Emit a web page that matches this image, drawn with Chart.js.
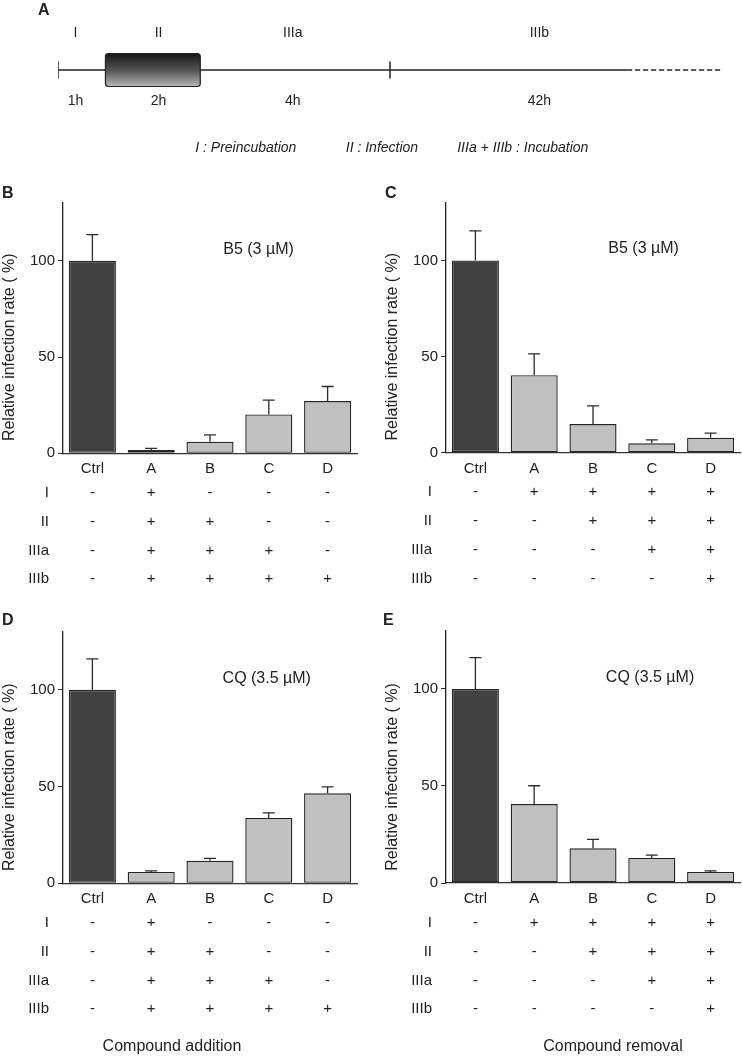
<!DOCTYPE html>
<html>
<head>
<meta charset="utf-8">
<script src="https://cdn.jsdelivr.net/npm/chart.js@4.4.1/dist/chart.umd.min.js"></script>
<style>
  html, body { margin: 0; padding: 0; background: #fff; }
  #fig { position: relative; width: 742px; height: 1056px; overflow: hidden;
         font-family: "Liberation Sans", Arial, sans-serif; color: #222; }
  #fig canvas { position: absolute; }
  .letter { position: absolute; font-weight: bold; font-size: 16px; line-height: 16px; }
  .foot { position: absolute; font-size: 16px; line-height: 18px; white-space: nowrap; transform: translateX(-50%); }
</style>
</head>
<body>
<div id="fig">
  <canvas id="timeline" width="742" height="170" style="left:0;top:0"></canvas>
  <canvas id="panelB" width="371" height="420" style="left:0;top:180px"></canvas>
  <canvas id="panelC" width="371" height="420" style="left:371px;top:180px"></canvas>
  <canvas id="panelD" width="371" height="451" style="left:0;top:605px"></canvas>
  <canvas id="panelE" width="371" height="451" style="left:371px;top:605px"></canvas>

  <div class="letter" style="left:38px;top:2px">A</div>
  <div class="letter" style="left:2px;top:185px">B</div>
  <div class="letter" style="left:385px;top:185px">C</div>
  <div class="letter" style="left:2px;top:612px">D</div>
  <div class="letter" style="left:383px;top:612px">E</div>

  <div class="foot" style="left:172px;top:1037px">Compound addition</div>
  <div class="foot" style="left:613px;top:1037px">Compound removal</div>
</div>

<script>
// ---- data ----
const categories = ['Ctrl', 'A', 'B', 'C', 'D'];
const phases = ['I', 'II', 'IIIa', 'IIIb'];
const phaseHours = ['1h', '2h', '4h', '42h'];
const phaseLegend = ['I : Preincubation', 'II : Infection', 'IIIa + IIIb : Incubation'];
const yTicks = [0, 50, 100];
const yTitle = 'Relative infection rate ( %)';

// +/- per phase row (I, II, IIIa, IIIb) for each condition
const additionSteps = [
  ['-', '+', '-', '-', '-'],
  ['-', '+', '+', '-', '-'],
  ['-', '+', '+', '+', '-'],
  ['-', '+', '+', '+', '+']
];
const removalSteps = [
  ['-', '+', '+', '+', '+'],
  ['-', '-', '+', '+', '+'],
  ['-', '-', '-', '+', '+'],
  ['-', '-', '-', '-', '+']
];

const b5AddMean = [100, 1.7, 6.0, 20.2, 27.1];
const b5AddErr  = [13.6, 0.9, 3.6, 7.4, 7.6];
const b5RemMean = [100, 40.3, 14.9, 4.9, 7.8];
const b5RemErr  = [15.4, 11.1, 9.5, 1.8, 2.4];
const cqAddMean = [100, 5.9, 11.6, 33.8, 46.5];
const cqAddErr  = [16.0, 0.5, 1.3, 2.6, 3.3];
const cqRemMean = [100, 40.7, 17.9, 12.9, 5.7];
const cqRemErr  = [16.1, 9.4, 4.6, 1.5, 0.5];

// schematic timeline (hours; IIIb drawn shortened, then dashed)
const phaseBounds = [0, 1, 3, 7];
const solidEnd = 12;
const dashEnd = 14;

const FONT = '"Liberation Sans", Arial, sans-serif';
Chart.defaults.font.family = FONT;
Chart.defaults.color = '#222';

// ---- panel A ----
const phaseLabelX = [0.37, 2.12, 4.95, 10.15];
const legendX = [3.96, 6.83, 9.8];

const timelinePlugin = {
  id: 'timelineDecor',
  afterDatasetsDraw(chart) {
    const { ctx, scales: { x, y } } = chart;
    const x1 = x.getPixelForValue(phaseBounds[1]);
    const x2 = x.getPixelForValue(phaseBounds[2]);
    const top = y.getPixelForValue(0.33);
    const bot = y.getPixelForValue(-0.33);
    ctx.save();
    const g = ctx.createLinearGradient(0, top, 0, bot);
    g.addColorStop(0, '#151515');
    g.addColorStop(0.55, '#5a5a5a');
    g.addColorStop(1, '#b8b8b8');
    ctx.fillStyle = g;
    ctx.strokeStyle = '#222';
    ctx.lineWidth = 1.2;
    ctx.beginPath();
    ctx.roundRect(x1, top, x2 - x1, bot - top, 3);
    ctx.fill();
    ctx.stroke();

    const y0 = y.getPixelForValue(0);
    ctx.fillStyle = '#222';
    ctx.textAlign = 'center';
    ctx.textBaseline = 'middle';
    ctx.font = '14px ' + FONT;
    phases.forEach((p, i) => ctx.fillText(p, x.getPixelForValue(phaseLabelX[i]), y0 - 37));
    phaseHours.forEach((h, i) => ctx.fillText(h, x.getPixelForValue(phaseLabelX[i]), y0 + 31));
    ctx.font = 'italic 14px ' + FONT;
    phaseLegend.forEach((t, i) => ctx.fillText(t, x.getPixelForValue(legendX[i]), y0 + 78));
    ctx.restore();
  }
};

const lineStyle = { showLine: true, borderColor: '#222', borderWidth: 1.5, pointRadius: 0 };
new Chart(document.getElementById('timeline'), {
  type: 'scatter',
  data: {
    datasets: [
      Object.assign({ data: [{ x: phaseBounds[0], y: 0 }, { x: solidEnd, y: 0 }] }, lineStyle),
      Object.assign({ data: [{ x: solidEnd, y: 0 }, { x: dashEnd, y: 0 }], borderDash: [5, 3] }, lineStyle),
      Object.assign({ data: [{ x: phaseBounds[0], y: -0.17 }, { x: phaseBounds[0], y: 0.17 }] }, lineStyle),
      Object.assign({ data: [{ x: phaseBounds[3], y: -0.17 }, { x: phaseBounds[3], y: 0.17 }] }, lineStyle)
    ]
  },
  options: {
    responsive: false,
    animation: false,
    layout: { padding: { left: 58, right: 20, top: 20, bottom: 50 } },
    scales: {
      x: { type: 'linear', min: 0, max: dashEnd, display: false },
      y: { min: -1, max: 1, display: false }
    },
    plugins: { legend: { display: false }, tooltip: { enabled: false } }
  },
  plugins: [timelinePlugin]
});

// ---- panels B-E ----
const rowOffsets = [16, 39.5, 68.5, 97.5, 126];

const errorBarPlugin = {
  id: 'errorBars',
  afterDatasetsDraw(chart, args, opts) {
    const { ctx, scales: { y } } = chart;
    const values = chart.data.datasets[0].data;
    ctx.save();
    ctx.strokeStyle = '#2b2b2b';
    ctx.lineWidth = 1.3;
    chart.getDatasetMeta(0).data.forEach((bar, i) => {
      const t = y.getPixelForValue(values[i] + opts.values[i]);
      ctx.beginPath();
      ctx.moveTo(bar.x, bar.y);
      ctx.lineTo(bar.x, t);
      ctx.moveTo(bar.x - 6, t);
      ctx.lineTo(bar.x + 6, t);
      ctx.stroke();
    });
    ctx.restore();
  }
};

const stepTablePlugin = {
  id: 'stepTable',
  afterDraw(chart, args, opts) {
    const { ctx, chartArea, scales: { x, y } } = chart;
    ctx.save();
    ctx.fillStyle = '#222';
    ctx.textBaseline = 'middle';
    ctx.font = '15px ' + FONT;
    ctx.textAlign = 'center';
    categories.forEach((c, i) => ctx.fillText(c, x.getPixelForValue(i), chartArea.bottom + rowOffsets[0]));
    opts.steps.forEach((row, r) => {
      const yy = chartArea.bottom + rowOffsets[r + 1];
      ctx.textAlign = 'right';
      ctx.fillText(phases[r], chartArea.left - 14, yy);
      ctx.textAlign = 'center';
      row.forEach((s, i) => ctx.fillText(s, x.getPixelForValue(i), yy));
    });

    // compound label inside plot
    ctx.font = '16px ' + FONT;
    ctx.fillText(opts.label, chartArea.left + opts.labelFrac * (chartArea.right - chartArea.left), y.getPixelForValue(106));

    // y axis title
    ctx.translate(chartArea.left - 53, chartArea.bottom - 106);
    ctx.rotate(-Math.PI / 2);
    ctx.fillText(yTitle, 0, 0);
    ctx.restore();
  }
};

function makePanel(id, mean, err, steps, label, labelFrac, box) {
  const canvas = document.getElementById(id);
  const W = canvas.width, H = canvas.height;
  new Chart(canvas, {
    type: 'bar',
    data: {
      labels: categories,
      datasets: [{
        data: mean,
        backgroundColor: categories.map((c, i) => i === 0 ? '#414141' : '#c0c0c0'),
        borderColor: '#262626',
        borderWidth: 1.4,
        borderSkipped: false,
        barPercentage: 0.8,
        categoryPercentage: 1
      }]
    },
    options: {
      responsive: false,
      animation: false,
      layout: { padding: { top: box.top, right: W - box.right, left: 0, bottom: 0 } },
      plugins: {
        legend: { display: false },
        tooltip: { enabled: false },
        errorBars: { values: err },
        stepTable: { steps: steps, label: label, labelFrac: labelFrac }
      },
      scales: {
        x: {
          grid: { display: false },
          border: { display: true, color: '#333', width: 1.3 },
          ticks: { display: false },
          afterFit: s => { s.height = H - box.bottom; }
        },
        y: {
          min: 0,
          max: 130,
          afterBuildTicks: s => { s.ticks = yTicks.map(v => ({ value: v })); },
          grid: { drawOnChartArea: false, color: '#333', tickLength: 5 },
          border: { display: true, color: '#222', width: 1.3 },
          ticks: { font: { size: 15 }, color: '#222', padding: 3 },
          afterFit: s => { s.width = box.left; }
        }
      }
    },
    plugins: [errorBarPlugin, stepTablePlugin]
  });
}

makePanel('panelB', b5AddMean, b5AddErr, additionSteps, 'B5 (3 µM)', 0.665,
  { left: 63, top: 23, right: 357, bottom: 273.3 });
makePanel('panelC', b5RemMean, b5RemErr, removalSteps, 'B5 (3 µM)', 0.672,
  { left: 75, top: 22.7, right: 369, bottom: 272.7 });
makePanel('panelD', cqAddMean, cqAddErr, additionSteps, 'CQ (3.5 µM)', 0.693,
  { left: 63, top: 26.7, right: 357, bottom: 278.3 });
makePanel('panelE', cqRemMean, cqRemErr, removalSteps, 'CQ (3.5 µM)', 0.694,
  { left: 75, top: 25.7, right: 369, bottom: 278 });
</script>
</body>
</html>
